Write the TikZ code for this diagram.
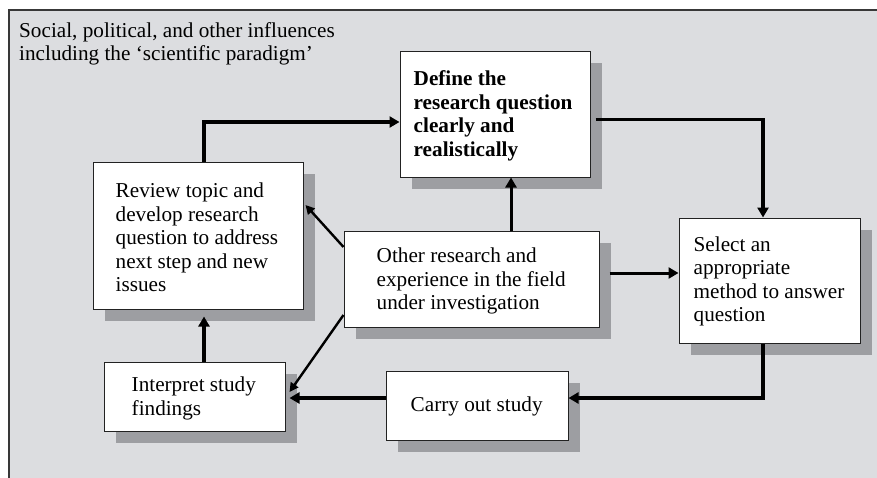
\documentclass[tikz,border=0pt]{standalone}
\usepackage{fontspec}
\setmainfont{Liberation Serif}
\usetikzlibrary{shadows,arrows.meta}
\definecolor{bggray}{HTML}{DCDDE0}
\definecolor{shadgray}{HTML}{9D9EA2}
\definecolor{edge}{HTML}{222222}
\begin{document}
\begin{tikzpicture}[x=1pt,y=-1pt,
  box/.style={draw=edge, line width=1pt, fill=white, rectangle, inner sep=0pt,
    drop shadow={shadow xshift=12pt, shadow yshift=-12pt, fill=shadgray, opacity=1}},
  txt/.style={anchor=west, align=left, inner sep=0pt, font=\fontsize{21.2}{23.5}\selectfont},
  arr/.style={line width=3.8pt, -{Triangle[length=10pt,width=11pt]}},
  darr/.style={line width=2.4pt, -{Triangle[length=9pt,width=9pt]}}]
\useasboundingbox (0,0) rectangle (877,477);
\fill[white] (0,0) rectangle (877,477);
\draw[draw=edge!90, line width=1.2pt, fill=bggray] (9,10) rectangle (895,495);
\node[txt, anchor=north west] (infl) at (19,22) {Social, political, and other influences\\including the `scientific paradigm\char39};
% boxes
\node[box, minimum width=190pt, minimum height=126pt] (def) at (495,114) {};
\node[box, minimum width=210pt, minimum height=147pt] (rev) at (198,235.5) {};
\node[box, minimum width=255pt, minimum height=96pt] (oth) at (471.5,279) {};
\node[box, minimum width=181pt, minimum height=125pt] (sel) at (769.5,280.5) {};
\node[box, minimum width=181pt, minimum height=69pt] (int) at (194.5,396.5) {};
\node[box, minimum width=182pt, minimum height=69pt] (car) at (477,405.5) {};
% texts
\node[txt, font=\fontsize{21.2}{23.5}\selectfont\bfseries] (deft) at ([xshift=14pt,yshift=-2pt]def.west) {Define the\\research question\\clearly and\\realistically};
\node[txt] (revt) at ([xshift=23pt,yshift=-2pt]rev.west) {Review topic and\\develop research\\question to address\\next step and new\\issues};
\node[txt] (otht) at ([xshift=33pt,yshift=-2pt]oth.west) {Other research and\\experience in the field\\under investigation};
\node[txt] (selt) at ([xshift=15pt,yshift=-1pt]sel.west) {Select an\\appropriate\\method to answer\\question};
\node[txt] (intt) at ([xshift=28pt,yshift=-2pt]int.west) {Interpret study\\findings};
\node[txt] (cart) at ([xshift=25pt,yshift=-1pt]car.west) {Carry out study};
% connectors
\draw[arr] ([xshift=6pt]rev.north) |- ([yshift=-8pt]def.west);
\draw[arr] ([xshift=5pt,yshift=-5.5pt]def.east) -| ([xshift=-6.5pt]sel.north);
\draw[arr, line width=3pt] ([xshift=39.5pt]oth.north) -- ([xshift=39.5pt]oth.north |- def.south);
\draw[darr] ([yshift=32pt]oth.west) -- ([xshift=2pt,yshift=30.5pt]rev.east);
\draw[arr, line width=3pt] ([xshift=10pt,yshift=6pt]oth.east) -- ([yshift=7.5pt]sel.west);
\draw[darr] ([yshift=-36pt]oth.west) -- ([xshift=4pt,yshift=4.5pt]int.east);
\draw[arr] ([xshift=-6.5pt]sel.south) |- ([yshift=7.5pt]car.east);
\draw[arr] ([yshift=7.5pt]car.west) -- ([xshift=4pt,yshift=-1.5pt]int.east);
\draw[arr] ([xshift=9.5pt]int.north) -- ([xshift=9.5pt,yshift=-7pt]int.north |- rev.south);
\end{tikzpicture}
\end{document}
